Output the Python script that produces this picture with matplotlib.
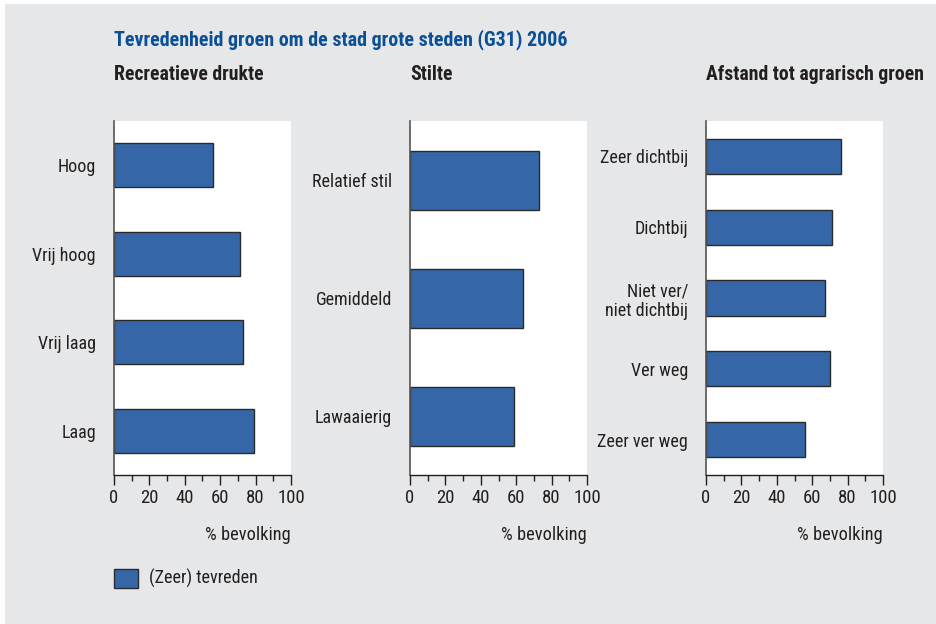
import matplotlib
matplotlib.use("Agg")
import matplotlib.pyplot as plt
from matplotlib.patches import Rectangle
from matplotlib.ticker import MultipleLocator
from matplotlib import font_manager as fm

title = "Tevredenheid groen om de stad grote steden (G31) 2006"
panel_titles = ["Recreatieve drukte", "Stilte", "Afstand tot agrarisch groen"]

cats1 = ["Hoog", "Vrij hoog", "Vrij laag", "Laag"]
vals1 = [56, 71, 73, 79]
cats2 = ["Relatief stil", "Gemiddeld", "Lawaaierig"]
vals2 = [73, 64, 59]
cats3 = ["Zeer dichtbij", "Dichtbij", "Niet ver/\nniet dichtbij", "Ver weg", "Zeer ver weg"]
vals3 = [76, 71, 67, 70, 56]

xticks = [0, 20, 40, 60, 80, 100]
xlabel = "% bevolking"
legend_label = "(Zeer) tevreden"

available = set(f.name for f in fm.fontManager.ttflist)
prefs = ["Arial Narrow", "Liberation Sans Narrow", "Nimbus Sans Narrow",
         "Roboto Condensed", "PT Sans Narrow", "Archivo Narrow", "Liberation Sans"]
chosen = [p for p in prefs if p in available][:1]
plt.rcParams['font.family'] = chosen + ['DejaVu Sans']

W, H = 937, 624
fig = plt.figure(figsize=(W / 100, H / 100), dpi=100)
fig.patch.set_facecolor("white")
bg = Rectangle((5 / W, 0), 1 - 5 / W, 1 - 4 / H, transform=fig.transFigure,
               facecolor="#e6e7e8", edgecolor="none", zorder=-10)
fig.patches.append(bg)

bar_color = "#3567a8"
edge_color = "#2a2a2a"
text_color = "#231f20"

lefts = [114, 410, 706]
ax_w = 177
top, bottom = 121, 475

data = [(cats1, vals1), (cats2, vals2), (cats3, vals3)]
for i, (cats, vals) in enumerate(data):
    l = lefts[i]
    ax = fig.add_axes([l / W, 1 - bottom / H, ax_w / W, (bottom - top) / H])
    ax.set_facecolor("white")
    n = len(cats)
    ypos = list(range(n))
    ax.barh(ypos, vals, height=0.5, color=bar_color, edgecolor=edge_color, linewidth=1.0)
    ax.set_ylim(n - 0.5, -0.5)
    ax.set_xlim(0, 100)
    ax.set_yticks(ypos)
    ax.set_yticklabels(cats, fontsize=13, color=text_color, linespacing=1.15)
    ax.tick_params(axis="y", length=0, pad=13)
    ax.set_xticks(xticks)
    ax.set_xticklabels([str(t) for t in xticks], fontsize=13.5, color=text_color)
    ax.xaxis.set_minor_locator(MultipleLocator(10))
    ax.tick_params(axis="x", which="major", direction="out", length=7, width=1, color="#231f20", pad=3)
    ax.tick_params(axis="x", which="minor", direction="out", length=4, width=1, color="#231f20")
    for s in ["top", "right"]:
        ax.spines[s].set_visible(False)
    ax.spines["left"].set_color("#555555")
    ax.spines["left"].set_linewidth(1.2)
    ax.spines["bottom"].set_color("#231f20")
    ax.spines["bottom"].set_linewidth(1.0)
    fig.text((l + ax_w) / W, 1 - 535 / H, xlabel, ha="right", va="center",
             fontsize=13.2, color=text_color)
    fig.text(l / W, 1 - 75 / H, panel_titles[i], ha="left", va="center",
             fontsize=14.2, fontweight="bold", color=text_color)

fig.text(114 / W, 1 - 40 / H, title, ha="left", va="center", fontsize=14.4,
         fontweight="bold", color="#0b4f96")

leg = Rectangle((114 / W, 1 - 588 / H), 24 / W, 19 / H, transform=fig.transFigure,
                facecolor=bar_color, edgecolor=edge_color, linewidth=1.0)
fig.patches.append(leg)
fig.text(149 / W, 1 - 578 / H, legend_label, ha="left", va="center",
         fontsize=13, color=text_color)

fig.savefig("out.png", dpi=100, facecolor=fig.get_facecolor())
